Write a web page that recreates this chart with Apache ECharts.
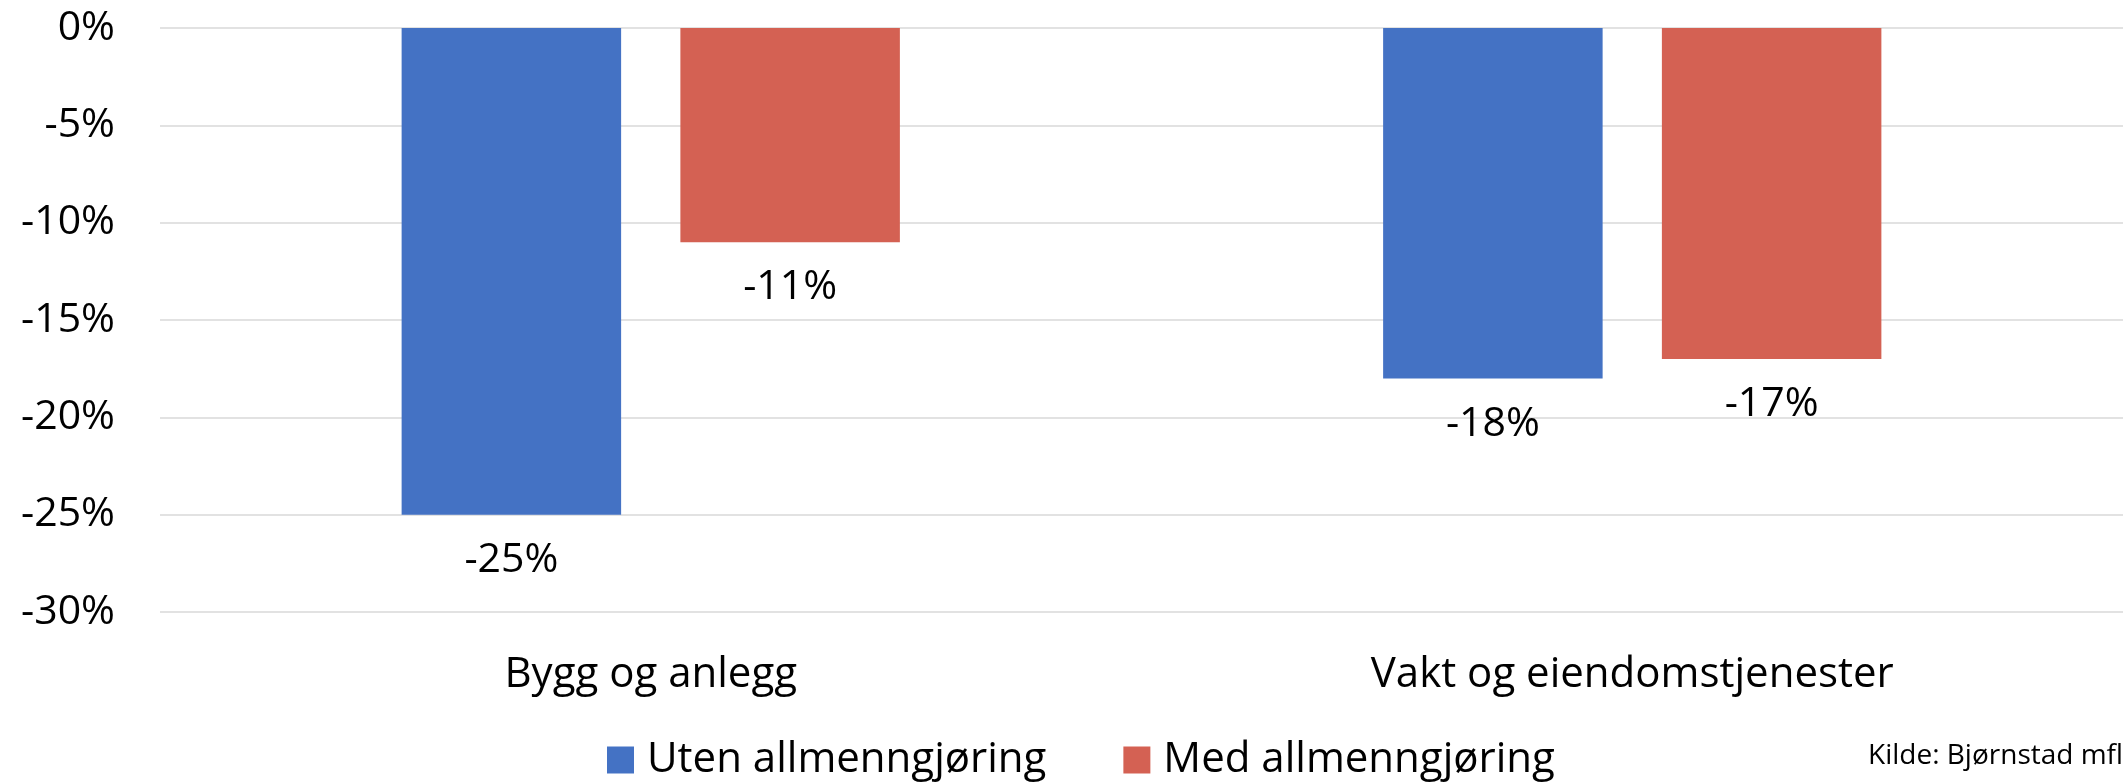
<!DOCTYPE html>
<html>
<head>
<meta charset="utf-8">
<script src="https://cdn.jsdelivr.net/npm/echarts@6/dist/echarts.min.js"></script>
<style>
  html, body { margin: 0; padding: 0; background: #ffffff; }
  #chart { width: 2123px; height: 783px; }
</style>
</head>
<body>
<div id="chart"></div>
<script>
const categories = ['Bygg og anlegg', 'Vakt og eiendomstjenester'];
const seriesNames = ['Uten allmenngjøring', 'Med allmenngjøring'];
const utenValues = [-25, -18];
const medValues = [-11, -17];
const yMin = -30, yMax = 0, yStep = 5;
const sourceText = 'Kilde: Bjørnstad mfl.';

const FONT = '"Open Sans", "Noto Sans", sans-serif';
const colors = ['#4472C4', '#D46153'];

const chart = echarts.init(document.getElementById('chart'), null, { renderer: 'canvas' });

const labelOpt = {
  show: true,
  position: 'bottom',
  distance: 25,
  color: '#000',
  fontFamily: FONT,
  fontSize: 41,
  formatter: p => p.value + '%'
};

chart.setOption({
  animation: false,
  backgroundColor: '#ffffff',
  color: colors,
  grid: { left: 160, right: 0, top: 28, bottom: 171, containLabel: false },
  legend: {
    data: seriesNames,
    left: 602,
    top: 730,
    icon: 'rect',
    itemWidth: 27,
    itemHeight: 27,
    itemGap: 77,
    textStyle: { color: '#000', fontFamily: FONT, fontSize: 42, lineHeight: 50, padding: [0, 0, 0, 8] }
  },
  xAxis: {
    type: 'category',
    data: categories,
    axisLine: { show: false },
    axisTick: { show: false },
    axisLabel: { color: '#000', fontFamily: FONT, fontSize: 42, margin: 42 }
  },
  yAxis: {
    type: 'value',
    min: yMin,
    max: yMax,
    interval: yStep,
    axisLine: { show: false },
    axisTick: { show: false },
    splitLine: { lineStyle: { color: '#D9D9D9', width: 1.5 } },
    axisLabel: { color: '#000', fontFamily: FONT, fontSize: 41, margin: 45, formatter: '{value}%' }
  },
  series: [
    { name: seriesNames[0], type: 'bar', data: utenValues, barWidth: 219.5, barGap: '27%', label: labelOpt },
    { name: seriesNames[1], type: 'bar', data: medValues, barWidth: 219.5, barGap: '27%', label: labelOpt }
  ],
  graphic: [{
    type: 'text',
    left: 1868,
    top: 742,
    style: { text: sourceText, fill: '#000', font: '28px ' + FONT }
  }]
});
</script>
</body>
</html>
